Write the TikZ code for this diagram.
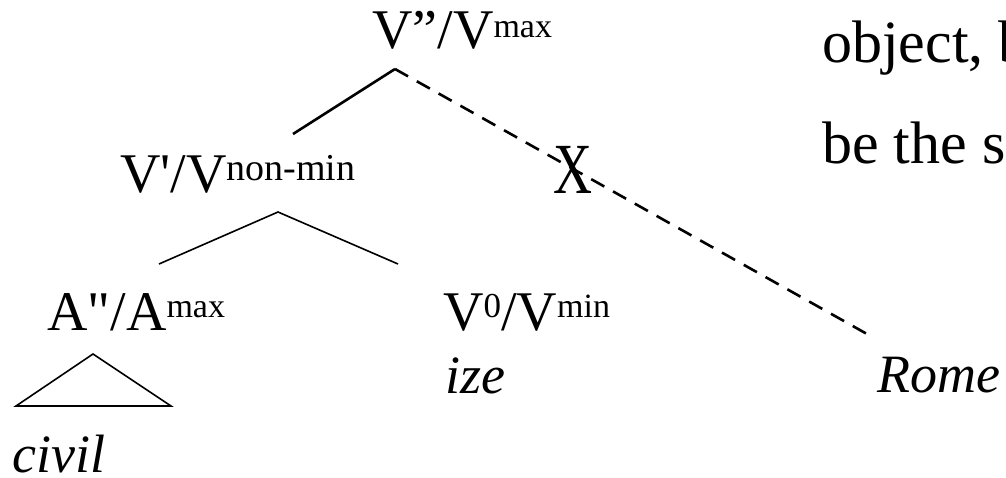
\documentclass[tikz,border=0pt]{standalone}
\usepackage{fontspec}
\setmainfont{Liberation Serif}[Ligatures=TeXOff]
\newcommand\supf[3]{\raisebox{#1pt}{\fontsize{#2}{#2}\selectfont #3}}
\begin{document}
\begin{tikzpicture}[x=1pt,y=-1pt,
  lab/.style={inner sep=0pt, anchor=base west, font=\fontsize{56}{60}\selectfont},
  itl/.style={inner sep=0pt, anchor=base west, font=\fontsize{54}{58}\selectfont\itshape},
  body/.style={inner sep=0pt, anchor=base west, font=\fontsize{60}{62}\selectfont},
  heavy/.style={line width=2.6pt},
  heavydash/.style={line width=2.6pt, dash pattern=on 15pt off 10pt},
  thin/.style={line width=1.6pt, line join=miter}]
\useasboundingbox (0,0) rectangle (1006,477);
\clip (0,0) rectangle (1006,477);

% labels
\node[lab] (vmax) at (372,48) {V”/V\supf{11}{34}{max}};
\node[lab] (vbar) at (120,192) {V'/V\supf{12}{38}{non-min}};
\node[lab] (amax) at (47,330) {A"/A\supf{13}{34}{max}};
\node[lab] (vmin) at (443,330) {V\supf{13}{35}{0}/V\supf{13}{34}{min}};
\node[itl] (ize) at (445,393) {ize};
\node[itl] (civil) at (12,472) {civil};
\node[itl] (rome) at (877,392) {Rome};
\node[inner sep=0pt, anchor=base west] (xmark) at (553,193) {\scalebox{0.75}[1]{\fontsize{72}{72}\selectfont X}};

% running text at right
\node[body] (t1) at (822,62) {object, b};
\node[body] (t2) at (822,163) {be the s};

% branch points
\coordinate (vmaxF) at (395,69);
\coordinate (vbarT) at (293,134);
\coordinate (romeT) at (867,334);
\coordinate (vbarF) at (278,212);
\coordinate (amaxT) at (159,264);
\coordinate (vminT) at (398,264);
\coordinate (triA) at (93,354);
\coordinate (triL) at (16,406);
\coordinate (triR) at (171,406);

% connectors
\draw[heavy] (vmaxF) -- (vbarT);
\draw[heavydash] (vmaxF) -- (romeT);
\draw[thin] (amaxT) -- (vbarF) -- (vminT);
\draw[thin] (triA) -- (triL) -- (triR) -- cycle;
\end{tikzpicture}
\end{document}
